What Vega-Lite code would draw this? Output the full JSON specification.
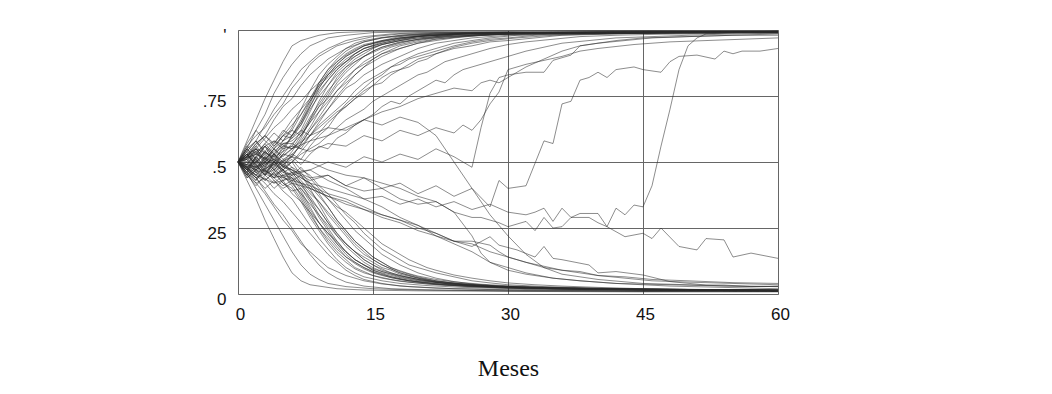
{
"$schema": "https://vega.github.io/schema/vega-lite/v6.json",
"width": 540, "height": 264,
"autosize": {"type": "none"},
"padding": {"left": 238, "top": 30, "right": 274, "bottom": 100},
"background": "white",
"config": {"view": {"stroke": "#aaaaaa", "strokeWidth": 1}},
"data": {"values": [
{"s":1,"m":0,"p":0.5},{"s":1,"m":1,"p":0.58},{"s":1,"m":2,"p":0.66},{"s":1,"m":3,"p":0.74},{"s":1,"m":4,"p":0.81},{"s":1,"m":5,"p":0.88},{"s":1,"m":6,"p":0.94},{"s":1,"m":7,"p":0.96},{"s":1,"m":9,"p":0.98},{"s":1,"m":11,"p":0.99},{"s":1,"m":15,"p":0.995},{"s":1,"m":25,"p":0.993},{"s":1,"m":40,"p":0.997},{"s":1,"m":60,"p":0.996},
{"s":2,"m":0,"p":0.5},{"s":2,"m":1,"p":0.55},{"s":2,"m":2,"p":0.62},{"s":2,"m":3,"p":0.68},{"s":2,"m":4,"p":0.76},{"s":2,"m":5,"p":0.82},{"s":2,"m":6,"p":0.87},{"s":2,"m":7,"p":0.91},{"s":2,"m":8,"p":0.94},{"s":2,"m":10,"p":0.97},{"s":2,"m":12,"p":0.98},{"s":2,"m":15,"p":0.99},{"s":2,"m":20,"p":0.993},{"s":2,"m":30,"p":0.99},{"s":2,"m":45,"p":0.995},{"s":2,"m":60,"p":0.993},
{"s":3,"m":0,"p":0.5},{"s":3,"m":1,"p":0.54},{"s":3,"m":2,"p":0.58},{"s":3,"m":3,"p":0.64},{"s":3,"m":4,"p":0.7},{"s":3,"m":5,"p":0.75},{"s":3,"m":6,"p":0.8},{"s":3,"m":7,"p":0.85},{"s":3,"m":8,"p":0.88},{"s":3,"m":9,"p":0.91},{"s":3,"m":10,"p":0.93},{"s":3,"m":12,"p":0.96},{"s":3,"m":14,"p":0.975},{"s":3,"m":17,"p":0.985},{"s":3,"m":20,"p":0.99},{"s":3,"m":30,"p":0.992},{"s":3,"m":45,"p":0.988},{"s":3,"m":60,"p":0.995},
{"s":4,"m":0,"p":0.5},{"s":4,"m":1,"p":0.52},{"s":4,"m":2,"p":0.57},{"s":4,"m":3,"p":0.6},{"s":4,"m":4,"p":0.66},{"s":4,"m":5,"p":0.71},{"s":4,"m":6,"p":0.74},{"s":4,"m":7,"p":0.79},{"s":4,"m":8,"p":0.83},{"s":4,"m":9,"p":0.86},{"s":4,"m":10,"p":0.89},{"s":4,"m":11,"p":0.91},{"s":4,"m":12,"p":0.93},{"s":4,"m":14,"p":0.955},{"s":4,"m":16,"p":0.97},{"s":4,"m":18,"p":0.98},{"s":4,"m":22,"p":0.988},{"s":4,"m":30,"p":0.99},{"s":4,"m":45,"p":0.993},{"s":4,"m":60,"p":0.995},
{"s":5,"m":0,"p":0.5},{"s":5,"m":1,"p":0.56},{"s":5,"m":2,"p":0.6},{"s":5,"m":3,"p":0.63},{"s":5,"m":4,"p":0.68},{"s":5,"m":5,"p":0.72},{"s":5,"m":6,"p":0.78},{"s":5,"m":7,"p":0.82},{"s":5,"m":8,"p":0.87},{"s":5,"m":9,"p":0.9},{"s":5,"m":10,"p":0.92},{"s":5,"m":11,"p":0.94},{"s":5,"m":13,"p":0.96},{"s":5,"m":15,"p":0.975},{"s":5,"m":18,"p":0.985},{"s":5,"m":25,"p":0.99},{"s":5,"m":40,"p":0.993},{"s":5,"m":60,"p":0.994},
{"s":6,"m":0,"p":0.5},{"s":6,"m":1,"p":0.53},{"s":6,"m":2,"p":0.55},{"s":6,"m":3,"p":0.59},{"s":6,"m":4,"p":0.63},{"s":6,"m":5,"p":0.66},{"s":6,"m":6,"p":0.7},{"s":6,"m":7,"p":0.73},{"s":6,"m":8,"p":0.77},{"s":6,"m":9,"p":0.8},{"s":6,"m":10,"p":0.83},{"s":6,"m":11,"p":0.86},{"s":6,"m":12,"p":0.88},{"s":6,"m":13,"p":0.9},{"s":6,"m":14,"p":0.92},{"s":6,"m":16,"p":0.945},{"s":6,"m":18,"p":0.96},{"s":6,"m":20,"p":0.975},{"s":6,"m":24,"p":0.985},{"s":6,"m":30,"p":0.99},{"s":6,"m":45,"p":0.992},{"s":6,"m":60,"p":0.994},
{"s":7,"m":0,"p":0.5},{"s":7,"m":1,"p":0.46},{"s":7,"m":2,"p":0.52},{"s":7,"m":3,"p":0.56},{"s":7,"m":4,"p":0.5},{"s":7,"m":5,"p":0.54},{"s":7,"m":6,"p":0.6},{"s":7,"m":7,"p":0.64},{"s":7,"m":8,"p":0.7},{"s":7,"m":9,"p":0.75},{"s":7,"m":10,"p":0.79},{"s":7,"m":11,"p":0.83},{"s":7,"m":12,"p":0.86},{"s":7,"m":13,"p":0.88},{"s":7,"m":14,"p":0.9},{"s":7,"m":16,"p":0.93},{"s":7,"m":18,"p":0.95},{"s":7,"m":20,"p":0.965},{"s":7,"m":22,"p":0.975},{"s":7,"m":25,"p":0.985},{"s":7,"m":30,"p":0.99},{"s":7,"m":40,"p":0.985},{"s":7,"m":50,"p":0.993},{"s":7,"m":60,"p":0.99},
{"s":8,"m":0,"p":0.5},{"s":8,"m":1,"p":0.53},{"s":8,"m":2,"p":0.49},{"s":8,"m":3,"p":0.45},{"s":8,"m":4,"p":0.5},{"s":8,"m":5,"p":0.56},{"s":8,"m":6,"p":0.55},{"s":8,"m":7,"p":0.6},{"s":8,"m":8,"p":0.66},{"s":8,"m":9,"p":0.71},{"s":8,"m":10,"p":0.74},{"s":8,"m":11,"p":0.79},{"s":8,"m":12,"p":0.82},{"s":8,"m":13,"p":0.85},{"s":8,"m":14,"p":0.87},{"s":8,"m":16,"p":0.91},{"s":8,"m":18,"p":0.93},{"s":8,"m":20,"p":0.95},{"s":8,"m":22,"p":0.96},{"s":8,"m":24,"p":0.97},{"s":8,"m":27,"p":0.98},{"s":8,"m":30,"p":0.985},{"s":8,"m":40,"p":0.99},{"s":8,"m":50,"p":0.985},{"s":8,"m":60,"p":0.993},
{"s":9,"m":0,"p":0.5},{"s":9,"m":1,"p":0.47},{"s":9,"m":2,"p":0.43},{"s":9,"m":3,"p":0.48},{"s":9,"m":4,"p":0.53},{"s":9,"m":5,"p":0.5},{"s":9,"m":6,"p":0.52},{"s":9,"m":7,"p":0.57},{"s":9,"m":8,"p":0.62},{"s":9,"m":9,"p":0.66},{"s":9,"m":10,"p":0.7},{"s":9,"m":11,"p":0.74},{"s":9,"m":12,"p":0.78},{"s":9,"m":13,"p":0.8},{"s":9,"m":14,"p":0.83},{"s":9,"m":15,"p":0.85},{"s":9,"m":16,"p":0.87},{"s":9,"m":18,"p":0.9},{"s":9,"m":20,"p":0.93},{"s":9,"m":22,"p":0.95},{"s":9,"m":24,"p":0.96},{"s":9,"m":26,"p":0.97},{"s":9,"m":30,"p":0.98},{"s":9,"m":35,"p":0.985},{"s":9,"m":45,"p":0.99},{"s":9,"m":60,"p":0.992},
{"s":10,"m":0,"p":0.5},{"s":10,"m":1,"p":0.55},{"s":10,"m":2,"p":0.58},{"s":10,"m":3,"p":0.53},{"s":10,"m":4,"p":0.57},{"s":10,"m":5,"p":0.62},{"s":10,"m":6,"p":0.6},{"s":10,"m":7,"p":0.65},{"s":10,"m":8,"p":0.71},{"s":10,"m":9,"p":0.77},{"s":10,"m":10,"p":0.81},{"s":10,"m":11,"p":0.85},{"s":10,"m":12,"p":0.88},{"s":10,"m":13,"p":0.91},{"s":10,"m":14,"p":0.93},{"s":10,"m":16,"p":0.955},{"s":10,"m":18,"p":0.97},{"s":10,"m":21,"p":0.98},{"s":10,"m":25,"p":0.988},{"s":10,"m":35,"p":0.99},{"s":10,"m":50,"p":0.993},{"s":10,"m":60,"p":0.993},
{"s":11,"m":0,"p":0.5},{"s":11,"m":1,"p":0.44},{"s":11,"m":2,"p":0.47},{"s":11,"m":3,"p":0.52},{"s":11,"m":4,"p":0.48},{"s":11,"m":5,"p":0.53},{"s":11,"m":6,"p":0.57},{"s":11,"m":7,"p":0.55},{"s":11,"m":8,"p":0.6},{"s":11,"m":9,"p":0.64},{"s":11,"m":10,"p":0.67},{"s":11,"m":11,"p":0.7},{"s":11,"m":12,"p":0.73},{"s":11,"m":13,"p":0.77},{"s":11,"m":14,"p":0.8},{"s":11,"m":15,"p":0.82},{"s":11,"m":16,"p":0.84},{"s":11,"m":17,"p":0.86},{"s":11,"m":18,"p":0.88},{"s":11,"m":20,"p":0.91},{"s":11,"m":22,"p":0.93},{"s":11,"m":24,"p":0.95},{"s":11,"m":26,"p":0.96},{"s":11,"m":28,"p":0.97},{"s":11,"m":31,"p":0.98},{"s":11,"m":36,"p":0.985},{"s":11,"m":45,"p":0.99},{"s":11,"m":60,"p":0.99},
{"s":12,"m":0,"p":0.5},{"s":12,"m":1,"p":0.52},{"s":12,"m":2,"p":0.56},{"s":12,"m":3,"p":0.6},{"s":12,"m":4,"p":0.57},{"s":12,"m":5,"p":0.61},{"s":12,"m":6,"p":0.66},{"s":12,"m":7,"p":0.7},{"s":12,"m":8,"p":0.74},{"s":12,"m":9,"p":0.79},{"s":12,"m":10,"p":0.82},{"s":12,"m":11,"p":0.86},{"s":12,"m":12,"p":0.89},{"s":12,"m":14,"p":0.93},{"s":12,"m":16,"p":0.95},{"s":12,"m":18,"p":0.965},{"s":12,"m":20,"p":0.975},{"s":12,"m":24,"p":0.985},{"s":12,"m":30,"p":0.99},{"s":12,"m":45,"p":0.992},{"s":12,"m":60,"p":0.993},
{"s":13,"m":0,"p":0.5},{"s":13,"m":1,"p":0.48},{"s":13,"m":2,"p":0.51},{"s":13,"m":3,"p":0.47},{"s":13,"m":4,"p":0.44},{"s":13,"m":5,"p":0.48},{"s":13,"m":6,"p":0.53},{"s":13,"m":7,"p":0.51},{"s":13,"m":8,"p":0.56},{"s":13,"m":9,"p":0.6},{"s":13,"m":10,"p":0.63},{"s":13,"m":11,"p":0.68},{"s":13,"m":12,"p":0.72},{"s":13,"m":13,"p":0.75},{"s":13,"m":14,"p":0.78},{"s":13,"m":15,"p":0.81},{"s":13,"m":16,"p":0.83},{"s":13,"m":17,"p":0.86},{"s":13,"m":18,"p":0.87},{"s":13,"m":19,"p":0.89},{"s":13,"m":20,"p":0.9},{"s":13,"m":22,"p":0.92},{"s":13,"m":24,"p":0.94},{"s":13,"m":26,"p":0.955},{"s":13,"m":28,"p":0.965},{"s":13,"m":30,"p":0.97},{"s":13,"m":33,"p":0.98},{"s":13,"m":38,"p":0.985},{"s":13,"m":45,"p":0.99},{"s":13,"m":60,"p":0.99},
{"s":14,"m":0,"p":0.5},{"s":14,"m":1,"p":0.57},{"s":14,"m":2,"p":0.62},{"s":14,"m":3,"p":0.58},{"s":14,"m":4,"p":0.55},{"s":14,"m":5,"p":0.6},{"s":14,"m":6,"p":0.64},{"s":14,"m":7,"p":0.68},{"s":14,"m":8,"p":0.73},{"s":14,"m":9,"p":0.78},{"s":14,"m":10,"p":0.83},{"s":14,"m":11,"p":0.87},{"s":14,"m":12,"p":0.9},{"s":14,"m":13,"p":0.92},{"s":14,"m":14,"p":0.94},{"s":14,"m":16,"p":0.96},{"s":14,"m":18,"p":0.975},{"s":14,"m":22,"p":0.985},{"s":14,"m":30,"p":0.99},{"s":14,"m":45,"p":0.993},{"s":14,"m":60,"p":0.994},
{"s":15,"m":0,"p":0.5},{"s":15,"m":1,"p":0.45},{"s":15,"m":2,"p":0.41},{"s":15,"m":3,"p":0.45},{"s":15,"m":4,"p":0.5},{"s":15,"m":5,"p":0.47},{"s":15,"m":6,"p":0.5},{"s":15,"m":7,"p":0.54},{"s":15,"m":8,"p":0.58},{"s":15,"m":9,"p":0.61},{"s":15,"m":10,"p":0.65},{"s":15,"m":11,"p":0.68},{"s":15,"m":12,"p":0.71},{"s":15,"m":13,"p":0.74},{"s":15,"m":14,"p":0.76},{"s":15,"m":15,"p":0.79},{"s":15,"m":16,"p":0.8},{"s":15,"m":17,"p":0.83},{"s":15,"m":18,"p":0.85},{"s":15,"m":19,"p":0.86},{"s":15,"m":20,"p":0.88},{"s":15,"m":21,"p":0.89},{"s":15,"m":22,"p":0.91},{"s":15,"m":24,"p":0.93},{"s":15,"m":26,"p":0.94},{"s":15,"m":28,"p":0.955},{"s":15,"m":30,"p":0.96},{"s":15,"m":33,"p":0.97},{"s":15,"m":36,"p":0.98},{"s":15,"m":42,"p":0.985},{"s":15,"m":50,"p":0.99},{"s":15,"m":60,"p":0.99},
{"s":16,"m":0,"p":0.5},{"s":16,"m":1,"p":0.51},{"s":16,"m":2,"p":0.55},{"s":16,"m":3,"p":0.51},{"s":16,"m":4,"p":0.55},{"s":16,"m":5,"p":0.58},{"s":16,"m":6,"p":0.62},{"s":16,"m":7,"p":0.6},{"s":16,"m":8,"p":0.65},{"s":16,"m":9,"p":0.69},{"s":16,"m":10,"p":0.73},{"s":16,"m":11,"p":0.77},{"s":16,"m":12,"p":0.8},{"s":16,"m":13,"p":0.83},{"s":16,"m":14,"p":0.86},{"s":16,"m":15,"p":0.88},{"s":16,"m":16,"p":0.9},{"s":16,"m":18,"p":0.93},{"s":16,"m":20,"p":0.95},{"s":16,"m":22,"p":0.965},{"s":16,"m":25,"p":0.975},{"s":16,"m":30,"p":0.985},{"s":16,"m":40,"p":0.99},{"s":16,"m":60,"p":0.992},
{"s":17,"m":0,"p":0.5},{"s":17,"m":1,"p":0.47},{"s":17,"m":2,"p":0.5},{"s":17,"m":3,"p":0.54},{"s":17,"m":4,"p":0.51},{"s":17,"m":5,"p":0.47},{"s":17,"m":6,"p":0.5},{"s":17,"m":7,"p":0.53},{"s":17,"m":8,"p":0.55},{"s":17,"m":9,"p":0.57},{"s":17,"m":10,"p":0.6},{"s":17,"m":11,"p":0.63},{"s":17,"m":12,"p":0.66},{"s":17,"m":13,"p":0.68},{"s":17,"m":14,"p":0.7},{"s":17,"m":15,"p":0.73},{"s":17,"m":16,"p":0.75},{"s":17,"m":17,"p":0.77},{"s":17,"m":18,"p":0.79},{"s":17,"m":19,"p":0.81},{"s":17,"m":20,"p":0.83},{"s":17,"m":21,"p":0.84},{"s":17,"m":22,"p":0.86},{"s":17,"m":23,"p":0.88},{"s":17,"m":24,"p":0.89},{"s":17,"m":26,"p":0.91},{"s":17,"m":28,"p":0.93},{"s":17,"m":30,"p":0.945},{"s":17,"m":32,"p":0.955},{"s":17,"m":35,"p":0.965},{"s":17,"m":38,"p":0.975},{"s":17,"m":42,"p":0.98},{"s":17,"m":48,"p":0.985},{"s":17,"m":54,"p":0.99},{"s":17,"m":60,"p":0.99},
{"s":18,"m":0,"p":0.5},{"s":18,"m":1,"p":0.53},{"s":18,"m":2,"p":0.48},{"s":18,"m":3,"p":0.5},{"s":18,"m":4,"p":0.46},{"s":18,"m":5,"p":0.49},{"s":18,"m":6,"p":0.52},{"s":18,"m":7,"p":0.49},{"s":18,"m":8,"p":0.53},{"s":18,"m":9,"p":0.56},{"s":18,"m":10,"p":0.55},{"s":18,"m":11,"p":0.59},{"s":18,"m":12,"p":0.61},{"s":18,"m":13,"p":0.64},{"s":18,"m":14,"p":0.66},{"s":18,"m":15,"p":0.68},{"s":18,"m":16,"p":0.71},{"s":18,"m":17,"p":0.73},{"s":18,"m":18,"p":0.72},{"s":18,"m":19,"p":0.75},{"s":18,"m":20,"p":0.77},{"s":18,"m":21,"p":0.79},{"s":18,"m":22,"p":0.81},{"s":18,"m":23,"p":0.8},{"s":18,"m":24,"p":0.83},{"s":18,"m":25,"p":0.85},{"s":18,"m":26,"p":0.86},{"s":18,"m":28,"p":0.88},{"s":18,"m":30,"p":0.9},{"s":18,"m":32,"p":0.92},{"s":18,"m":34,"p":0.935},{"s":18,"m":36,"p":0.95},{"s":18,"m":39,"p":0.96},{"s":18,"m":42,"p":0.97},{"s":18,"m":46,"p":0.975},{"s":18,"m":50,"p":0.98},{"s":18,"m":55,"p":0.985},{"s":18,"m":60,"p":0.988},
{"s":19,"m":0,"p":0.5},{"s":19,"m":1,"p":0.49},{"s":19,"m":2,"p":0.53},{"s":19,"m":3,"p":0.57},{"s":19,"m":4,"p":0.53},{"s":19,"m":5,"p":0.56},{"s":19,"m":6,"p":0.59},{"s":19,"m":7,"p":0.62},{"s":19,"m":8,"p":0.6},{"s":19,"m":9,"p":0.63},{"s":19,"m":10,"p":0.66},{"s":19,"m":11,"p":0.69},{"s":19,"m":12,"p":0.71},{"s":19,"m":13,"p":0.74},{"s":19,"m":14,"p":0.77},{"s":19,"m":15,"p":0.79},{"s":19,"m":16,"p":0.82},{"s":19,"m":17,"p":0.84},{"s":19,"m":18,"p":0.85},{"s":19,"m":19,"p":0.87},{"s":19,"m":20,"p":0.89},{"s":19,"m":22,"p":0.91},{"s":19,"m":24,"p":0.935},{"s":19,"m":26,"p":0.95},{"s":19,"m":28,"p":0.96},{"s":19,"m":31,"p":0.97},{"s":19,"m":35,"p":0.98},{"s":19,"m":40,"p":0.985},{"s":19,"m":50,"p":0.99},{"s":19,"m":60,"p":0.99},
{"s":20,"m":0,"p":0.5},{"s":20,"m":2,"p":0.53},{"s":20,"m":4,"p":0.5},{"s":20,"m":6,"p":0.55},{"s":20,"m":8,"p":0.58},{"s":20,"m":10,"p":0.6},{"s":20,"m":12,"p":0.63},{"s":20,"m":14,"p":0.66},{"s":20,"m":16,"p":0.69},{"s":20,"m":18,"p":0.71},{"s":20,"m":20,"p":0.74},{"s":20,"m":22,"p":0.76},{"s":20,"m":24,"p":0.78},{"s":20,"m":26,"p":0.77},{"s":20,"m":27,"p":0.8},{"s":20,"m":28,"p":0.81},{"s":20,"m":29,"p":0.8},{"s":20,"m":30,"p":0.82},{"s":20,"m":31,"p":0.84},{"s":20,"m":32,"p":0.86},{"s":20,"m":34,"p":0.89},{"s":20,"m":36,"p":0.92},{"s":20,"m":38,"p":0.94},{"s":20,"m":40,"p":0.95},{"s":20,"m":43,"p":0.96},{"s":20,"m":46,"p":0.97},{"s":20,"m":50,"p":0.975},{"s":20,"m":55,"p":0.98},{"s":20,"m":60,"p":0.985},
{"s":21,"m":0,"p":0.5},{"s":21,"m":2,"p":0.46},{"s":21,"m":4,"p":0.49},{"s":21,"m":6,"p":0.45},{"s":21,"m":8,"p":0.47},{"s":21,"m":10,"p":0.5},{"s":21,"m":12,"p":0.48},{"s":21,"m":14,"p":0.52},{"s":21,"m":16,"p":0.5},{"s":21,"m":18,"p":0.53},{"s":21,"m":20,"p":0.51},{"s":21,"m":22,"p":0.55},{"s":21,"m":24,"p":0.52},{"s":21,"m":25,"p":0.5},{"s":21,"m":26,"p":0.48},{"s":21,"m":27,"p":0.63},{"s":21,"m":28,"p":0.76},{"s":21,"m":29,"p":0.82},{"s":21,"m":30,"p":0.83},{"s":21,"m":32,"p":0.84},{"s":21,"m":34,"p":0.84},{"s":21,"m":35,"p":0.885},{"s":21,"m":37,"p":0.905},{"s":21,"m":38,"p":0.94},{"s":21,"m":40,"p":0.95},{"s":21,"m":42,"p":0.96},{"s":21,"m":45,"p":0.97},{"s":21,"m":50,"p":0.975},{"s":21,"m":55,"p":0.98},{"s":21,"m":60,"p":0.98},
{"s":22,"m":0,"p":0.5},{"s":22,"m":2,"p":0.55},{"s":22,"m":4,"p":0.52},{"s":22,"m":6,"p":0.56},{"s":22,"m":8,"p":0.54},{"s":22,"m":10,"p":0.57},{"s":22,"m":12,"p":0.56},{"s":22,"m":14,"p":0.6},{"s":22,"m":16,"p":0.58},{"s":22,"m":18,"p":0.62},{"s":22,"m":20,"p":0.6},{"s":22,"m":22,"p":0.63},{"s":22,"m":24,"p":0.61},{"s":22,"m":25,"p":0.64},{"s":22,"m":26,"p":0.62},{"s":22,"m":27,"p":0.66},{"s":22,"m":28,"p":0.72},{"s":22,"m":29,"p":0.765},{"s":22,"m":30,"p":0.85},{"s":22,"m":32,"p":0.87},{"s":22,"m":34,"p":0.885},{"s":22,"m":36,"p":0.9},{"s":22,"m":38,"p":0.92},{"s":22,"m":40,"p":0.93},{"s":22,"m":44,"p":0.945},{"s":22,"m":48,"p":0.955},{"s":22,"m":52,"p":0.96},{"s":22,"m":56,"p":0.965},{"s":22,"m":60,"p":0.97},
{"s":23,"m":0,"p":0.5},{"s":23,"m":1,"p":0.43},{"s":23,"m":2,"p":0.36},{"s":23,"m":3,"p":0.28},{"s":23,"m":4,"p":0.21},{"s":23,"m":5,"p":0.14},{"s":23,"m":6,"p":0.08},{"s":23,"m":7,"p":0.05},{"s":23,"m":8,"p":0.035},{"s":23,"m":9,"p":0.03},{"s":23,"m":11,"p":0.02},{"s":23,"m":14,"p":0.015},{"s":23,"m":20,"p":0.012},{"s":23,"m":30,"p":0.01},{"s":23,"m":45,"p":0.008},{"s":23,"m":60,"p":0.008},
{"s":24,"m":0,"p":0.5},{"s":24,"m":1,"p":0.46},{"s":24,"m":2,"p":0.4},{"s":24,"m":3,"p":0.34},{"s":24,"m":4,"p":0.28},{"s":24,"m":5,"p":0.22},{"s":24,"m":6,"p":0.16},{"s":24,"m":7,"p":0.11},{"s":24,"m":8,"p":0.075},{"s":24,"m":9,"p":0.055},{"s":24,"m":10,"p":0.04},{"s":24,"m":12,"p":0.028},{"s":24,"m":15,"p":0.02},{"s":24,"m":20,"p":0.015},{"s":24,"m":30,"p":0.012},{"s":24,"m":45,"p":0.01},{"s":24,"m":60,"p":0.01},
{"s":25,"m":0,"p":0.5},{"s":25,"m":1,"p":0.47},{"s":25,"m":2,"p":0.44},{"s":25,"m":3,"p":0.39},{"s":25,"m":4,"p":0.34},{"s":25,"m":5,"p":0.3},{"s":25,"m":6,"p":0.25},{"s":25,"m":7,"p":0.2},{"s":25,"m":8,"p":0.15},{"s":25,"m":9,"p":0.11},{"s":25,"m":10,"p":0.08},{"s":25,"m":11,"p":0.06},{"s":25,"m":12,"p":0.045},{"s":25,"m":14,"p":0.03},{"s":25,"m":17,"p":0.02},{"s":25,"m":22,"p":0.015},{"s":25,"m":30,"p":0.012},{"s":25,"m":45,"p":0.01},{"s":25,"m":60,"p":0.01},
{"s":26,"m":0,"p":0.5},{"s":26,"m":1,"p":0.48},{"s":26,"m":2,"p":0.45},{"s":26,"m":3,"p":0.42},{"s":26,"m":4,"p":0.38},{"s":26,"m":5,"p":0.35},{"s":26,"m":6,"p":0.31},{"s":26,"m":7,"p":0.27},{"s":26,"m":8,"p":0.23},{"s":26,"m":9,"p":0.19},{"s":26,"m":10,"p":0.15},{"s":26,"m":11,"p":0.12},{"s":26,"m":12,"p":0.09},{"s":26,"m":13,"p":0.07},{"s":26,"m":14,"p":0.055},{"s":26,"m":16,"p":0.04},{"s":26,"m":18,"p":0.03},{"s":26,"m":22,"p":0.022},{"s":26,"m":30,"p":0.015},{"s":26,"m":45,"p":0.012},{"s":26,"m":60,"p":0.01},
{"s":27,"m":0,"p":0.5},{"s":27,"m":1,"p":0.45},{"s":27,"m":2,"p":0.42},{"s":27,"m":3,"p":0.38},{"s":27,"m":4,"p":0.33},{"s":27,"m":5,"p":0.28},{"s":27,"m":6,"p":0.24},{"s":27,"m":7,"p":0.19},{"s":27,"m":8,"p":0.16},{"s":27,"m":9,"p":0.13},{"s":27,"m":10,"p":0.1},{"s":27,"m":11,"p":0.085},{"s":27,"m":12,"p":0.07},{"s":27,"m":14,"p":0.05},{"s":27,"m":16,"p":0.038},{"s":27,"m":19,"p":0.028},{"s":27,"m":24,"p":0.02},{"s":27,"m":32,"p":0.015},{"s":27,"m":45,"p":0.012},{"s":27,"m":60,"p":0.012},
{"s":28,"m":0,"p":0.5},{"s":28,"m":1,"p":0.47},{"s":28,"m":2,"p":0.52},{"s":28,"m":3,"p":0.48},{"s":28,"m":4,"p":0.44},{"s":28,"m":5,"p":0.47},{"s":28,"m":6,"p":0.43},{"s":28,"m":7,"p":0.45},{"s":28,"m":8,"p":0.41},{"s":28,"m":9,"p":0.37},{"s":28,"m":10,"p":0.33},{"s":28,"m":11,"p":0.28},{"s":28,"m":12,"p":0.24},{"s":28,"m":13,"p":0.2},{"s":28,"m":14,"p":0.17},{"s":28,"m":15,"p":0.14},{"s":28,"m":16,"p":0.12},{"s":28,"m":17,"p":0.1},{"s":28,"m":18,"p":0.085},{"s":28,"m":20,"p":0.065},{"s":28,"m":22,"p":0.05},{"s":28,"m":24,"p":0.04},{"s":28,"m":27,"p":0.03},{"s":28,"m":30,"p":0.025},{"s":28,"m":35,"p":0.02},{"s":28,"m":45,"p":0.015},{"s":28,"m":60,"p":0.012},
{"s":29,"m":0,"p":0.5},{"s":29,"m":1,"p":0.53},{"s":29,"m":2,"p":0.49},{"s":29,"m":3,"p":0.45},{"s":29,"m":4,"p":0.48},{"s":29,"m":5,"p":0.44},{"s":29,"m":6,"p":0.46},{"s":29,"m":7,"p":0.42},{"s":29,"m":8,"p":0.38},{"s":29,"m":9,"p":0.35},{"s":29,"m":10,"p":0.31},{"s":29,"m":11,"p":0.27},{"s":29,"m":12,"p":0.23},{"s":29,"m":13,"p":0.19},{"s":29,"m":14,"p":0.16},{"s":29,"m":15,"p":0.13},{"s":29,"m":16,"p":0.11},{"s":29,"m":18,"p":0.08},{"s":29,"m":20,"p":0.06},{"s":29,"m":22,"p":0.045},{"s":29,"m":25,"p":0.035},{"s":29,"m":28,"p":0.028},{"s":29,"m":33,"p":0.022},{"s":29,"m":40,"p":0.018},{"s":29,"m":50,"p":0.015},{"s":29,"m":60,"p":0.014},
{"s":30,"m":0,"p":0.5},{"s":30,"m":1,"p":0.45},{"s":30,"m":2,"p":0.48},{"s":30,"m":3,"p":0.52},{"s":30,"m":4,"p":0.47},{"s":30,"m":5,"p":0.43},{"s":30,"m":6,"p":0.45},{"s":30,"m":7,"p":0.48},{"s":30,"m":8,"p":0.44},{"s":30,"m":9,"p":0.4},{"s":30,"m":10,"p":0.36},{"s":30,"m":11,"p":0.32},{"s":30,"m":12,"p":0.28},{"s":30,"m":13,"p":0.24},{"s":30,"m":14,"p":0.21},{"s":30,"m":15,"p":0.18},{"s":30,"m":16,"p":0.15},{"s":30,"m":17,"p":0.13},{"s":30,"m":18,"p":0.11},{"s":30,"m":19,"p":0.095},{"s":30,"m":20,"p":0.08},{"s":30,"m":22,"p":0.06},{"s":30,"m":24,"p":0.047},{"s":30,"m":26,"p":0.038},{"s":30,"m":29,"p":0.03},{"s":30,"m":33,"p":0.024},{"s":30,"m":40,"p":0.018},{"s":30,"m":50,"p":0.015},{"s":30,"m":60,"p":0.013},
{"s":31,"m":0,"p":0.5},{"s":31,"m":1,"p":0.51},{"s":31,"m":2,"p":0.46},{"s":31,"m":3,"p":0.43},{"s":31,"m":4,"p":0.46},{"s":31,"m":5,"p":0.42},{"s":31,"m":6,"p":0.39},{"s":31,"m":7,"p":0.4},{"s":31,"m":8,"p":0.36},{"s":31,"m":9,"p":0.32},{"s":31,"m":10,"p":0.27},{"s":31,"m":11,"p":0.23},{"s":31,"m":12,"p":0.19},{"s":31,"m":13,"p":0.16},{"s":31,"m":14,"p":0.13},{"s":31,"m":15,"p":0.11},{"s":31,"m":16,"p":0.09},{"s":31,"m":18,"p":0.07},{"s":31,"m":20,"p":0.055},{"s":31,"m":23,"p":0.04},{"s":31,"m":26,"p":0.03},{"s":31,"m":30,"p":0.024},{"s":31,"m":38,"p":0.018},{"s":31,"m":50,"p":0.014},{"s":31,"m":60,"p":0.012},
{"s":32,"m":0,"p":0.5},{"s":32,"m":1,"p":0.48},{"s":32,"m":2,"p":0.44},{"s":32,"m":3,"p":0.47},{"s":32,"m":4,"p":0.43},{"s":32,"m":5,"p":0.4},{"s":32,"m":6,"p":0.42},{"s":32,"m":7,"p":0.38},{"s":32,"m":8,"p":0.34},{"s":32,"m":9,"p":0.3},{"s":32,"m":10,"p":0.26},{"s":32,"m":11,"p":0.22},{"s":32,"m":12,"p":0.19},{"s":32,"m":13,"p":0.16},{"s":32,"m":14,"p":0.14},{"s":32,"m":15,"p":0.12},{"s":32,"m":16,"p":0.1},{"s":32,"m":17,"p":0.09},{"s":32,"m":18,"p":0.075},{"s":32,"m":20,"p":0.06},{"s":32,"m":22,"p":0.048},{"s":32,"m":25,"p":0.038},{"s":32,"m":28,"p":0.03},{"s":32,"m":32,"p":0.025},{"s":32,"m":40,"p":0.02},{"s":32,"m":50,"p":0.016},{"s":32,"m":60,"p":0.014},
{"s":33,"m":0,"p":0.5},{"s":33,"m":1,"p":0.52},{"s":33,"m":2,"p":0.55},{"s":33,"m":3,"p":0.5},{"s":33,"m":4,"p":0.53},{"s":33,"m":5,"p":0.49},{"s":33,"m":6,"p":0.51},{"s":33,"m":7,"p":0.47},{"s":33,"m":8,"p":0.45},{"s":33,"m":9,"p":0.41},{"s":33,"m":10,"p":0.38},{"s":33,"m":11,"p":0.34},{"s":33,"m":12,"p":0.3},{"s":33,"m":13,"p":0.27},{"s":33,"m":14,"p":0.23},{"s":33,"m":15,"p":0.2},{"s":33,"m":16,"p":0.17},{"s":33,"m":17,"p":0.15},{"s":33,"m":18,"p":0.13},{"s":33,"m":19,"p":0.11},{"s":33,"m":20,"p":0.1},{"s":33,"m":22,"p":0.08},{"s":33,"m":24,"p":0.065},{"s":33,"m":26,"p":0.05},{"s":33,"m":28,"p":0.042},{"s":33,"m":30,"p":0.035},{"s":33,"m":34,"p":0.028},{"s":33,"m":40,"p":0.022},{"s":33,"m":50,"p":0.017},{"s":33,"m":60,"p":0.015},
{"s":34,"m":0,"p":0.5},{"s":34,"m":1,"p":0.46},{"s":34,"m":2,"p":0.42},{"s":34,"m":3,"p":0.44},{"s":34,"m":4,"p":0.4},{"s":34,"m":5,"p":0.43},{"s":34,"m":6,"p":0.38},{"s":34,"m":7,"p":0.35},{"s":34,"m":8,"p":0.31},{"s":34,"m":9,"p":0.27},{"s":34,"m":10,"p":0.23},{"s":34,"m":11,"p":0.2},{"s":34,"m":12,"p":0.16},{"s":34,"m":13,"p":0.13},{"s":34,"m":14,"p":0.11},{"s":34,"m":15,"p":0.09},{"s":34,"m":17,"p":0.065},{"s":34,"m":19,"p":0.05},{"s":34,"m":22,"p":0.037},{"s":34,"m":26,"p":0.028},{"s":34,"m":32,"p":0.02},{"s":34,"m":45,"p":0.015},{"s":34,"m":60,"p":0.012},
{"s":35,"m":0,"p":0.5},{"s":35,"m":1,"p":0.54},{"s":35,"m":2,"p":0.5},{"s":35,"m":3,"p":0.46},{"s":35,"m":4,"p":0.5},{"s":35,"m":5,"p":0.46},{"s":35,"m":6,"p":0.48},{"s":35,"m":7,"p":0.44},{"s":35,"m":8,"p":0.42},{"s":35,"m":9,"p":0.39},{"s":35,"m":10,"p":0.36},{"s":35,"m":11,"p":0.33},{"s":35,"m":12,"p":0.31},{"s":35,"m":13,"p":0.28},{"s":35,"m":14,"p":0.25},{"s":35,"m":15,"p":0.22},{"s":35,"m":16,"p":0.19},{"s":35,"m":17,"p":0.17},{"s":35,"m":18,"p":0.15},{"s":35,"m":19,"p":0.13},{"s":35,"m":20,"p":0.115},{"s":35,"m":21,"p":0.1},{"s":35,"m":22,"p":0.09},{"s":35,"m":24,"p":0.072},{"s":35,"m":26,"p":0.06},{"s":35,"m":28,"p":0.05},{"s":35,"m":30,"p":0.042},{"s":35,"m":33,"p":0.035},{"s":35,"m":36,"p":0.03},{"s":35,"m":40,"p":0.025},{"s":35,"m":45,"p":0.02},{"s":35,"m":52,"p":0.017},{"s":35,"m":60,"p":0.015},
{"s":36,"m":0,"p":0.5},{"s":36,"m":2,"p":0.47},{"s":36,"m":4,"p":0.51},{"s":36,"m":6,"p":0.46},{"s":36,"m":8,"p":0.47},{"s":36,"m":10,"p":0.43},{"s":36,"m":12,"p":0.4},{"s":36,"m":14,"p":0.36},{"s":36,"m":16,"p":0.33},{"s":36,"m":18,"p":0.29},{"s":36,"m":20,"p":0.26},{"s":36,"m":22,"p":0.22},{"s":36,"m":24,"p":0.19},{"s":36,"m":26,"p":0.16},{"s":36,"m":28,"p":0.12},{"s":36,"m":30,"p":0.1},{"s":36,"m":32,"p":0.08},{"s":36,"m":35,"p":0.06},{"s":36,"m":38,"p":0.05},{"s":36,"m":42,"p":0.04},{"s":36,"m":48,"p":0.03},{"s":36,"m":54,"p":0.025},{"s":36,"m":60,"p":0.02},
{"s":37,"m":0,"p":0.5},{"s":37,"m":2,"p":0.53},{"s":37,"m":4,"p":0.49},{"s":37,"m":6,"p":0.52},{"s":37,"m":8,"p":0.5},{"s":37,"m":10,"p":0.47},{"s":37,"m":12,"p":0.45},{"s":37,"m":14,"p":0.44},{"s":37,"m":16,"p":0.42},{"s":37,"m":18,"p":0.4},{"s":37,"m":20,"p":0.37},{"s":37,"m":22,"p":0.35},{"s":37,"m":24,"p":0.31},{"s":37,"m":26,"p":0.22},{"s":37,"m":27,"p":0.155},{"s":37,"m":28,"p":0.12},{"s":37,"m":30,"p":0.09},{"s":37,"m":32,"p":0.075},{"s":37,"m":35,"p":0.06},{"s":37,"m":38,"p":0.05},{"s":37,"m":42,"p":0.04},{"s":37,"m":48,"p":0.035},{"s":37,"m":54,"p":0.03},{"s":37,"m":60,"p":0.028},
{"s":38,"m":0,"p":0.5},{"s":38,"m":2,"p":0.44},{"s":38,"m":4,"p":0.47},{"s":38,"m":6,"p":0.42},{"s":38,"m":8,"p":0.4},{"s":38,"m":10,"p":0.37},{"s":38,"m":12,"p":0.34},{"s":38,"m":14,"p":0.32},{"s":38,"m":16,"p":0.29},{"s":38,"m":18,"p":0.27},{"s":38,"m":20,"p":0.24},{"s":38,"m":22,"p":0.22},{"s":38,"m":24,"p":0.2},{"s":38,"m":26,"p":0.19},{"s":38,"m":28,"p":0.16},{"s":38,"m":30,"p":0.14},{"s":38,"m":32,"p":0.12},{"s":38,"m":34,"p":0.1},{"s":38,"m":36,"p":0.09},{"s":38,"m":38,"p":0.08},{"s":38,"m":40,"p":0.07},{"s":38,"m":43,"p":0.06},{"s":38,"m":46,"p":0.05},{"s":38,"m":50,"p":0.045},{"s":38,"m":55,"p":0.04},{"s":38,"m":60,"p":0.035},
{"s":39,"m":0,"p":0.5},{"s":39,"m":2,"p":0.48},{"s":39,"m":4,"p":0.45},{"s":39,"m":6,"p":0.43},{"s":39,"m":8,"p":0.41},{"s":39,"m":10,"p":0.38},{"s":39,"m":12,"p":0.36},{"s":39,"m":14,"p":0.33},{"s":39,"m":16,"p":0.3},{"s":39,"m":18,"p":0.28},{"s":39,"m":20,"p":0.25},{"s":39,"m":22,"p":0.23},{"s":39,"m":24,"p":0.2},{"s":39,"m":26,"p":0.2},{"s":39,"m":28,"p":0.185},{"s":39,"m":29,"p":0.16},{"s":39,"m":30,"p":0.14},{"s":39,"m":32,"p":0.12},{"s":39,"m":34,"p":0.105},{"s":39,"m":36,"p":0.09},{"s":39,"m":38,"p":0.085},{"s":39,"m":40,"p":0.07},{"s":39,"m":43,"p":0.065},{"s":39,"m":46,"p":0.055},{"s":39,"m":50,"p":0.05},{"s":39,"m":55,"p":0.043},{"s":39,"m":60,"p":0.04},
{"s":40,"m":0,"p":0.5},{"s":40,"m":2,"p":0.45},{"s":40,"m":4,"p":0.5},{"s":40,"m":6,"p":0.47},{"s":40,"m":8,"p":0.43},{"s":40,"m":10,"p":0.45},{"s":40,"m":12,"p":0.41},{"s":40,"m":14,"p":0.44},{"s":40,"m":16,"p":0.4},{"s":40,"m":18,"p":0.42},{"s":40,"m":20,"p":0.38},{"s":40,"m":22,"p":0.41},{"s":40,"m":24,"p":0.37},{"s":40,"m":26,"p":0.4},{"s":40,"m":28,"p":0.33},{"s":40,"m":29,"p":0.43},{"s":40,"m":30,"p":0.4},{"s":40,"m":32,"p":0.41},{"s":40,"m":33,"p":0.495},{"s":40,"m":34,"p":0.58},{"s":40,"m":35,"p":0.57},{"s":40,"m":36,"p":0.72},{"s":40,"m":37,"p":0.73},{"s":40,"m":38,"p":0.81},{"s":40,"m":39,"p":0.82},{"s":40,"m":40,"p":0.84},{"s":40,"m":41,"p":0.82},{"s":40,"m":42,"p":0.85},{"s":40,"m":44,"p":0.86},{"s":40,"m":45,"p":0.85},{"s":40,"m":47,"p":0.84},{"s":40,"m":48,"p":0.88},{"s":40,"m":49,"p":0.9},{"s":40,"m":51,"p":0.905},{"s":40,"m":53,"p":0.89},{"s":40,"m":54,"p":0.92},{"s":40,"m":55,"p":0.91},{"s":40,"m":56,"p":0.92},{"s":40,"m":58,"p":0.92},{"s":40,"m":60,"p":0.93},
{"s":41,"m":0,"p":0.5},{"s":41,"m":2,"p":0.47},{"s":41,"m":4,"p":0.44},{"s":41,"m":6,"p":0.46},{"s":41,"m":8,"p":0.42},{"s":41,"m":10,"p":0.4},{"s":41,"m":12,"p":0.38},{"s":41,"m":14,"p":0.36},{"s":41,"m":16,"p":0.37},{"s":41,"m":18,"p":0.34},{"s":41,"m":20,"p":0.36},{"s":41,"m":22,"p":0.33},{"s":41,"m":24,"p":0.35},{"s":41,"m":26,"p":0.32},{"s":41,"m":28,"p":0.34},{"s":41,"m":30,"p":0.31},{"s":41,"m":32,"p":0.3},{"s":41,"m":33,"p":0.31},{"s":41,"m":34,"p":0.325},{"s":41,"m":35,"p":0.275},{"s":41,"m":36,"p":0.325},{"s":41,"m":37,"p":0.29},{"s":41,"m":38,"p":0.305},{"s":41,"m":40,"p":0.305},{"s":41,"m":41,"p":0.255},{"s":41,"m":42,"p":0.325},{"s":41,"m":43,"p":0.3},{"s":41,"m":44,"p":0.337},{"s":41,"m":45,"p":0.33},{"s":41,"m":46,"p":0.41},{"s":41,"m":47,"p":0.56},{"s":41,"m":48,"p":0.7},{"s":41,"m":49,"p":0.85},{"s":41,"m":50,"p":0.94},{"s":41,"m":51,"p":0.97},{"s":41,"m":52,"p":0.985},{"s":41,"m":55,"p":0.99},{"s":41,"m":60,"p":0.995},
{"s":42,"m":0,"p":0.5},{"s":42,"m":2,"p":0.48},{"s":42,"m":4,"p":0.51},{"s":42,"m":6,"p":0.47},{"s":42,"m":8,"p":0.44},{"s":42,"m":10,"p":0.45},{"s":42,"m":12,"p":0.41},{"s":42,"m":14,"p":0.39},{"s":42,"m":16,"p":0.4},{"s":42,"m":18,"p":0.36},{"s":42,"m":20,"p":0.34},{"s":42,"m":22,"p":0.35},{"s":42,"m":24,"p":0.31},{"s":42,"m":26,"p":0.29},{"s":42,"m":27,"p":0.29},{"s":42,"m":29,"p":0.27},{"s":42,"m":30,"p":0.255},{"s":42,"m":32,"p":0.275},{"s":42,"m":33,"p":0.24},{"s":42,"m":34,"p":0.29},{"s":42,"m":35,"p":0.25},{"s":42,"m":36,"p":0.255},{"s":42,"m":37,"p":0.29},{"s":42,"m":39,"p":0.29},{"s":42,"m":40,"p":0.27},{"s":42,"m":41,"p":0.255},{"s":42,"m":43,"p":0.217},{"s":42,"m":45,"p":0.23},{"s":42,"m":46,"p":0.21},{"s":42,"m":47,"p":0.25},{"s":42,"m":49,"p":0.18},{"s":42,"m":51,"p":0.167},{"s":42,"m":52,"p":0.21},{"s":42,"m":54,"p":0.205},{"s":42,"m":55,"p":0.14},{"s":42,"m":57,"p":0.155},{"s":42,"m":60,"p":0.135},
{"s":43,"m":0,"p":0.5},{"s":43,"m":2,"p":0.45},{"s":43,"m":4,"p":0.42},{"s":43,"m":6,"p":0.44},{"s":43,"m":8,"p":0.4},{"s":43,"m":10,"p":0.37},{"s":43,"m":12,"p":0.35},{"s":43,"m":14,"p":0.32},{"s":43,"m":16,"p":0.3},{"s":43,"m":18,"p":0.28},{"s":43,"m":20,"p":0.26},{"s":43,"m":22,"p":0.23},{"s":43,"m":24,"p":0.2},{"s":43,"m":26,"p":0.18},{"s":43,"m":28,"p":0.217},{"s":43,"m":29,"p":0.185},{"s":43,"m":31,"p":0.167},{"s":43,"m":33,"p":0.14},{"s":43,"m":34,"p":0.18},{"s":43,"m":35,"p":0.135},{"s":43,"m":36,"p":0.13},{"s":43,"m":39,"p":0.11},{"s":43,"m":40,"p":0.08},{"s":43,"m":42,"p":0.085},{"s":43,"m":45,"p":0.072},{"s":43,"m":48,"p":0.047},{"s":43,"m":52,"p":0.034},{"s":43,"m":54,"p":0.034},{"s":43,"m":57,"p":0.028},{"s":43,"m":60,"p":0.03},
{"s":44,"m":0,"p":0.5},{"s":44,"m":2,"p":0.54},{"s":44,"m":4,"p":0.58},{"s":44,"m":6,"p":0.55},{"s":44,"m":8,"p":0.6},{"s":44,"m":10,"p":0.63},{"s":44,"m":12,"p":0.62},{"s":44,"m":14,"p":0.66},{"s":44,"m":16,"p":0.64},{"s":44,"m":18,"p":0.67},{"s":44,"m":20,"p":0.65},{"s":44,"m":22,"p":0.6},{"s":44,"m":24,"p":0.5},{"s":44,"m":26,"p":0.4},{"s":44,"m":28,"p":0.3},{"s":44,"m":30,"p":0.22},{"s":44,"m":32,"p":0.15},{"s":44,"m":34,"p":0.1},{"s":44,"m":36,"p":0.075},{"s":44,"m":40,"p":0.055},{"s":44,"m":45,"p":0.04},{"s":44,"m":50,"p":0.035},{"s":44,"m":55,"p":0.03},{"s":44,"m":60,"p":0.028},
{"s":45,"m":0,"p":0.5},{"s":45,"m":1,"p":0.47},{"s":45,"m":2,"p":0.51},{"s":45,"m":3,"p":0.46},{"s":45,"m":4,"p":0.49},{"s":45,"m":5,"p":0.45},{"s":45,"m":6,"p":0.44},{"s":45,"m":7,"p":0.39},{"s":45,"m":8,"p":0.33},{"s":45,"m":9,"p":0.27},{"s":45,"m":10,"p":0.22},{"s":45,"m":11,"p":0.18},{"s":45,"m":12,"p":0.14},{"s":45,"m":13,"p":0.115},{"s":45,"m":14,"p":0.095},{"s":45,"m":15,"p":0.08},{"s":45,"m":16,"p":0.07},{"s":45,"m":18,"p":0.055},{"s":45,"m":20,"p":0.045},{"s":45,"m":23,"p":0.035},{"s":45,"m":27,"p":0.028},{"s":45,"m":35,"p":0.02},{"s":45,"m":45,"p":0.016},{"s":45,"m":60,"p":0.013},
{"s":46,"m":0,"p":0.5},{"s":46,"m":1,"p":0.53},{"s":46,"m":2,"p":0.48},{"s":46,"m":3,"p":0.51},{"s":46,"m":4,"p":0.47},{"s":46,"m":5,"p":0.5},{"s":46,"m":6,"p":0.46},{"s":46,"m":7,"p":0.42},{"s":46,"m":8,"p":0.36},{"s":46,"m":9,"p":0.3},{"s":46,"m":10,"p":0.25},{"s":46,"m":11,"p":0.2},{"s":46,"m":12,"p":0.16},{"s":46,"m":13,"p":0.13},{"s":46,"m":14,"p":0.11},{"s":46,"m":15,"p":0.09},{"s":46,"m":16,"p":0.08},{"s":46,"m":18,"p":0.062},{"s":46,"m":20,"p":0.05},{"s":46,"m":23,"p":0.04},{"s":46,"m":27,"p":0.03},{"s":46,"m":35,"p":0.022},{"s":46,"m":45,"p":0.018},{"s":46,"m":60,"p":0.015},
{"s":47,"m":0,"p":0.5},{"s":47,"m":1,"p":0.46},{"s":47,"m":2,"p":0.43},{"s":47,"m":3,"p":0.47},{"s":47,"m":4,"p":0.44},{"s":47,"m":5,"p":0.41},{"s":47,"m":6,"p":0.43},{"s":47,"m":7,"p":0.37},{"s":47,"m":8,"p":0.31},{"s":47,"m":9,"p":0.25},{"s":47,"m":10,"p":0.2},{"s":47,"m":11,"p":0.16},{"s":47,"m":12,"p":0.13},{"s":47,"m":13,"p":0.1},{"s":47,"m":14,"p":0.085},{"s":47,"m":15,"p":0.07},{"s":47,"m":17,"p":0.055},{"s":47,"m":19,"p":0.045},{"s":47,"m":22,"p":0.035},{"s":47,"m":26,"p":0.027},{"s":47,"m":32,"p":0.02},{"s":47,"m":45,"p":0.015},{"s":47,"m":60,"p":0.012},
{"s":48,"m":0,"p":0.5},{"s":48,"m":1,"p":0.51},{"s":48,"m":2,"p":0.54},{"s":48,"m":3,"p":0.49},{"s":48,"m":4,"p":0.52},{"s":48,"m":5,"p":0.48},{"s":48,"m":6,"p":0.5},{"s":48,"m":7,"p":0.45},{"s":48,"m":8,"p":0.4},{"s":48,"m":9,"p":0.34},{"s":48,"m":10,"p":0.28},{"s":48,"m":11,"p":0.23},{"s":48,"m":12,"p":0.19},{"s":48,"m":13,"p":0.16},{"s":48,"m":14,"p":0.13},{"s":48,"m":15,"p":0.11},{"s":48,"m":16,"p":0.095},{"s":48,"m":17,"p":0.08},{"s":48,"m":18,"p":0.07},{"s":48,"m":20,"p":0.055},{"s":48,"m":22,"p":0.045},{"s":48,"m":25,"p":0.036},{"s":48,"m":29,"p":0.029},{"s":48,"m":36,"p":0.022},{"s":48,"m":45,"p":0.018},{"s":48,"m":60,"p":0.014},
{"s":49,"m":0,"p":0.5},{"s":49,"m":1,"p":0.44},{"s":49,"m":2,"p":0.47},{"s":49,"m":3,"p":0.43},{"s":49,"m":4,"p":0.46},{"s":49,"m":5,"p":0.42},{"s":49,"m":6,"p":0.4},{"s":49,"m":7,"p":0.35},{"s":49,"m":8,"p":0.29},{"s":49,"m":9,"p":0.24},{"s":49,"m":10,"p":0.19},{"s":49,"m":11,"p":0.15},{"s":49,"m":12,"p":0.12},{"s":49,"m":13,"p":0.095},{"s":49,"m":14,"p":0.08},{"s":49,"m":16,"p":0.06},{"s":49,"m":18,"p":0.048},{"s":49,"m":21,"p":0.038},{"s":49,"m":25,"p":0.03},{"s":49,"m":30,"p":0.024},{"s":49,"m":40,"p":0.018},{"s":49,"m":60,"p":0.013},
{"s":50,"m":0,"p":0.5},{"s":50,"m":1,"p":0.52},{"s":50,"m":2,"p":0.47},{"s":50,"m":3,"p":0.5},{"s":50,"m":4,"p":0.53},{"s":50,"m":5,"p":0.48},{"s":50,"m":6,"p":0.47},{"s":50,"m":7,"p":0.43},{"s":50,"m":8,"p":0.39},{"s":50,"m":9,"p":0.35},{"s":50,"m":10,"p":0.3},{"s":50,"m":11,"p":0.26},{"s":50,"m":12,"p":0.22},{"s":50,"m":13,"p":0.18},{"s":50,"m":14,"p":0.15},{"s":50,"m":15,"p":0.13},{"s":50,"m":16,"p":0.11},{"s":50,"m":17,"p":0.095},{"s":50,"m":18,"p":0.08},{"s":50,"m":20,"p":0.062},{"s":50,"m":22,"p":0.05},{"s":50,"m":24,"p":0.042},{"s":50,"m":27,"p":0.034},{"s":50,"m":31,"p":0.027},{"s":50,"m":38,"p":0.021},{"s":50,"m":48,"p":0.017},{"s":50,"m":60,"p":0.014},
{"s":51,"m":0,"p":0.5},{"s":51,"m":1,"p":0.48},{"s":51,"m":2,"p":0.45},{"s":51,"m":3,"p":0.49},{"s":51,"m":4,"p":0.45},{"s":51,"m":5,"p":0.47},{"s":51,"m":6,"p":0.42},{"s":51,"m":7,"p":0.38},{"s":51,"m":8,"p":0.32},{"s":51,"m":9,"p":0.27},{"s":51,"m":10,"p":0.23},{"s":51,"m":11,"p":0.19},{"s":51,"m":12,"p":0.16},{"s":51,"m":13,"p":0.13},{"s":51,"m":14,"p":0.11},{"s":51,"m":15,"p":0.095},{"s":51,"m":16,"p":0.085},{"s":51,"m":18,"p":0.068},{"s":51,"m":20,"p":0.056},{"s":51,"m":22,"p":0.047},{"s":51,"m":25,"p":0.038},{"s":51,"m":29,"p":0.03},{"s":51,"m":35,"p":0.024},{"s":51,"m":45,"p":0.018},{"s":51,"m":60,"p":0.015},
{"s":52,"m":0,"p":0.5},{"s":52,"m":1,"p":0.55},{"s":52,"m":2,"p":0.51},{"s":52,"m":3,"p":0.47},{"s":52,"m":4,"p":0.5},{"s":52,"m":5,"p":0.46},{"s":52,"m":6,"p":0.45},{"s":52,"m":7,"p":0.41},{"s":52,"m":8,"p":0.37},{"s":52,"m":9,"p":0.32},{"s":52,"m":10,"p":0.27},{"s":52,"m":11,"p":0.22},{"s":52,"m":12,"p":0.18},{"s":52,"m":13,"p":0.15},{"s":52,"m":14,"p":0.12},{"s":52,"m":15,"p":0.1},{"s":52,"m":16,"p":0.085},{"s":52,"m":18,"p":0.065},{"s":52,"m":20,"p":0.052},{"s":52,"m":23,"p":0.04},{"s":52,"m":27,"p":0.031},{"s":52,"m":33,"p":0.024},{"s":52,"m":42,"p":0.019},{"s":52,"m":60,"p":0.015},
{"s":53,"m":0,"p":0.5},{"s":53,"m":1,"p":0.47},{"s":53,"m":2,"p":0.44},{"s":53,"m":3,"p":0.4},{"s":53,"m":4,"p":0.43},{"s":53,"m":5,"p":0.39},{"s":53,"m":6,"p":0.36},{"s":53,"m":7,"p":0.31},{"s":53,"m":8,"p":0.26},{"s":53,"m":9,"p":0.21},{"s":53,"m":10,"p":0.17},{"s":53,"m":11,"p":0.13},{"s":53,"m":12,"p":0.1},{"s":53,"m":13,"p":0.08},{"s":53,"m":14,"p":0.065},{"s":53,"m":16,"p":0.05},{"s":53,"m":18,"p":0.04},{"s":53,"m":21,"p":0.032},{"s":53,"m":25,"p":0.025},{"s":53,"m":32,"p":0.019},{"s":53,"m":45,"p":0.015},{"s":53,"m":60,"p":0.012},
{"s":54,"m":0,"p":0.5},{"s":54,"m":1,"p":0.5},{"s":54,"m":2,"p":0.46},{"s":54,"m":3,"p":0.5},{"s":54,"m":4,"p":0.47},{"s":54,"m":5,"p":0.51},{"s":54,"m":6,"p":0.48},{"s":54,"m":7,"p":0.46},{"s":54,"m":8,"p":0.42},{"s":54,"m":9,"p":0.38},{"s":54,"m":10,"p":0.33},{"s":54,"m":11,"p":0.28},{"s":54,"m":12,"p":0.24},{"s":54,"m":13,"p":0.2},{"s":54,"m":14,"p":0.17},{"s":54,"m":15,"p":0.14},{"s":54,"m":16,"p":0.12},{"s":54,"m":17,"p":0.1},{"s":54,"m":18,"p":0.088},{"s":54,"m":19,"p":0.077},{"s":54,"m":20,"p":0.068},{"s":54,"m":22,"p":0.055},{"s":54,"m":24,"p":0.046},{"s":54,"m":27,"p":0.037},{"s":54,"m":30,"p":0.031},{"s":54,"m":35,"p":0.025},{"s":54,"m":42,"p":0.02},{"s":54,"m":50,"p":0.017},{"s":54,"m":60,"p":0.015},
{"s":55,"m":0,"p":0.5},{"s":55,"m":1,"p":0.45},{"s":55,"m":2,"p":0.49},{"s":55,"m":3,"p":0.45},{"s":55,"m":4,"p":0.42},{"s":55,"m":5,"p":0.45},{"s":55,"m":6,"p":0.41},{"s":55,"m":7,"p":0.36},{"s":55,"m":8,"p":0.3},{"s":55,"m":9,"p":0.25},{"s":55,"m":10,"p":0.21},{"s":55,"m":11,"p":0.17},{"s":55,"m":12,"p":0.14},{"s":55,"m":13,"p":0.12},{"s":55,"m":14,"p":0.1},{"s":55,"m":15,"p":0.085},{"s":55,"m":16,"p":0.074},{"s":55,"m":18,"p":0.058},{"s":55,"m":20,"p":0.047},{"s":55,"m":23,"p":0.037},{"s":55,"m":27,"p":0.029},{"s":55,"m":34,"p":0.022},{"s":55,"m":45,"p":0.017},{"s":55,"m":60,"p":0.013},
{"s":56,"m":0,"p":0.5},{"s":56,"m":1,"p":0.53},{"s":56,"m":2,"p":0.5},{"s":56,"m":3,"p":0.54},{"s":56,"m":4,"p":0.5},{"s":56,"m":5,"p":0.47},{"s":56,"m":6,"p":0.44},{"s":56,"m":7,"p":0.4},{"s":56,"m":8,"p":0.35},{"s":56,"m":9,"p":0.29},{"s":56,"m":10,"p":0.24},{"s":56,"m":11,"p":0.19},{"s":56,"m":12,"p":0.15},{"s":56,"m":13,"p":0.12},{"s":56,"m":14,"p":0.1},{"s":56,"m":15,"p":0.083},{"s":56,"m":17,"p":0.062},{"s":56,"m":19,"p":0.05},{"s":56,"m":22,"p":0.039},{"s":56,"m":26,"p":0.03},{"s":56,"m":32,"p":0.023},{"s":56,"m":45,"p":0.017},{"s":56,"m":60,"p":0.013},
{"s":57,"m":0,"p":0.5},{"s":57,"m":1,"p":0.53},{"s":57,"m":2,"p":0.49},{"s":57,"m":3,"p":0.54},{"s":57,"m":4,"p":0.51},{"s":57,"m":5,"p":0.55},{"s":57,"m":6,"p":0.56},{"s":57,"m":7,"p":0.62},{"s":57,"m":8,"p":0.69},{"s":57,"m":9,"p":0.76},{"s":57,"m":10,"p":0.81},{"s":57,"m":11,"p":0.85},{"s":57,"m":12,"p":0.88},{"s":57,"m":13,"p":0.91},{"s":57,"m":14,"p":0.93},{"s":57,"m":16,"p":0.95},{"s":57,"m":18,"p":0.965},{"s":57,"m":20,"p":0.975},{"s":57,"m":25,"p":0.985},{"s":57,"m":35,"p":0.99},{"s":57,"m":50,"p":0.993},{"s":57,"m":60,"p":0.992},
{"s":58,"m":0,"p":0.5},{"s":58,"m":1,"p":0.47},{"s":58,"m":2,"p":0.52},{"s":58,"m":3,"p":0.48},{"s":58,"m":4,"p":0.53},{"s":58,"m":5,"p":0.5},{"s":58,"m":6,"p":0.54},{"s":58,"m":7,"p":0.59},{"s":58,"m":8,"p":0.66},{"s":58,"m":9,"p":0.73},{"s":58,"m":10,"p":0.79},{"s":58,"m":11,"p":0.84},{"s":58,"m":12,"p":0.87},{"s":58,"m":13,"p":0.9},{"s":58,"m":14,"p":0.92},{"s":58,"m":15,"p":0.935},{"s":58,"m":16,"p":0.945},{"s":58,"m":18,"p":0.96},{"s":58,"m":20,"p":0.97},{"s":58,"m":24,"p":0.98},{"s":58,"m":30,"p":0.986},{"s":58,"m":45,"p":0.99},{"s":58,"m":60,"p":0.992},
{"s":59,"m":0,"p":0.5},{"s":59,"m":1,"p":0.55},{"s":59,"m":2,"p":0.51},{"s":59,"m":3,"p":0.56},{"s":59,"m":4,"p":0.53},{"s":59,"m":5,"p":0.58},{"s":59,"m":6,"p":0.6},{"s":59,"m":7,"p":0.66},{"s":59,"m":8,"p":0.73},{"s":59,"m":9,"p":0.79},{"s":59,"m":10,"p":0.84},{"s":59,"m":11,"p":0.88},{"s":59,"m":12,"p":0.91},{"s":59,"m":13,"p":0.93},{"s":59,"m":14,"p":0.945},{"s":59,"m":16,"p":0.96},{"s":59,"m":18,"p":0.97},{"s":59,"m":21,"p":0.98},{"s":59,"m":26,"p":0.986},{"s":59,"m":35,"p":0.99},{"s":59,"m":60,"p":0.993},
{"s":60,"m":0,"p":0.5},{"s":60,"m":1,"p":0.49},{"s":60,"m":2,"p":0.54},{"s":60,"m":3,"p":0.5},{"s":60,"m":4,"p":0.55},{"s":60,"m":5,"p":0.52},{"s":60,"m":6,"p":0.55},{"s":60,"m":7,"p":0.58},{"s":60,"m":8,"p":0.63},{"s":60,"m":9,"p":0.69},{"s":60,"m":10,"p":0.75},{"s":60,"m":11,"p":0.8},{"s":60,"m":12,"p":0.84},{"s":60,"m":13,"p":0.87},{"s":60,"m":14,"p":0.9},{"s":60,"m":15,"p":0.92},{"s":60,"m":16,"p":0.935},{"s":60,"m":18,"p":0.955},{"s":60,"m":20,"p":0.965},{"s":60,"m":23,"p":0.975},{"s":60,"m":28,"p":0.983},{"s":60,"m":35,"p":0.988},{"s":60,"m":50,"p":0.99},{"s":60,"m":60,"p":0.991},
{"s":61,"m":0,"p":0.5},{"s":61,"m":1,"p":0.52},{"s":61,"m":2,"p":0.56},{"s":61,"m":3,"p":0.52},{"s":61,"m":4,"p":0.56},{"s":61,"m":5,"p":0.6},{"s":61,"m":6,"p":0.59},{"s":61,"m":7,"p":0.64},{"s":61,"m":8,"p":0.71},{"s":61,"m":9,"p":0.78},{"s":61,"m":10,"p":0.83},{"s":61,"m":11,"p":0.87},{"s":61,"m":12,"p":0.9},{"s":61,"m":13,"p":0.92},{"s":61,"m":14,"p":0.94},{"s":61,"m":16,"p":0.957},{"s":61,"m":18,"p":0.968},{"s":61,"m":20,"p":0.976},{"s":61,"m":25,"p":0.985},{"s":61,"m":35,"p":0.99},{"s":61,"m":60,"p":0.992},
{"s":62,"m":0,"p":0.5},{"s":62,"m":1,"p":0.46},{"s":62,"m":2,"p":0.5},{"s":62,"m":3,"p":0.53},{"s":62,"m":4,"p":0.49},{"s":62,"m":5,"p":0.53},{"s":62,"m":6,"p":0.52},{"s":62,"m":7,"p":0.57},{"s":62,"m":8,"p":0.62},{"s":62,"m":9,"p":0.67},{"s":62,"m":10,"p":0.72},{"s":62,"m":11,"p":0.77},{"s":62,"m":12,"p":0.81},{"s":62,"m":13,"p":0.85},{"s":62,"m":14,"p":0.88},{"s":62,"m":15,"p":0.9},{"s":62,"m":16,"p":0.92},{"s":62,"m":17,"p":0.935},{"s":62,"m":18,"p":0.945},{"s":62,"m":20,"p":0.96},{"s":62,"m":22,"p":0.97},{"s":62,"m":26,"p":0.98},{"s":62,"m":32,"p":0.986},{"s":62,"m":45,"p":0.99},{"s":62,"m":60,"p":0.991},
{"s":63,"m":0,"p":0.5},{"s":63,"m":1,"p":0.54},{"s":63,"m":2,"p":0.58},{"s":63,"m":3,"p":0.54},{"s":63,"m":4,"p":0.58},{"s":63,"m":5,"p":0.55},{"s":63,"m":6,"p":0.6},{"s":63,"m":7,"p":0.65},{"s":63,"m":8,"p":0.72},{"s":63,"m":9,"p":0.8},{"s":63,"m":10,"p":0.85},{"s":63,"m":11,"p":0.89},{"s":63,"m":12,"p":0.92},{"s":63,"m":13,"p":0.94},{"s":63,"m":14,"p":0.955},{"s":63,"m":16,"p":0.97},{"s":63,"m":19,"p":0.98},{"s":63,"m":24,"p":0.987},{"s":63,"m":35,"p":0.99},{"s":63,"m":60,"p":0.993},
{"s":64,"m":0,"p":0.5},{"s":64,"m":1,"p":0.48},{"s":64,"m":2,"p":0.52},{"s":64,"m":3,"p":0.56},{"s":64,"m":4,"p":0.52},{"s":64,"m":5,"p":0.57},{"s":64,"m":6,"p":0.58},{"s":64,"m":7,"p":0.61},{"s":64,"m":8,"p":0.67},{"s":64,"m":9,"p":0.72},{"s":64,"m":10,"p":0.77},{"s":64,"m":11,"p":0.81},{"s":64,"m":12,"p":0.85},{"s":64,"m":13,"p":0.88},{"s":64,"m":14,"p":0.9},{"s":64,"m":15,"p":0.92},{"s":64,"m":16,"p":0.935},{"s":64,"m":18,"p":0.953},{"s":64,"m":20,"p":0.964},{"s":64,"m":23,"p":0.974},{"s":64,"m":27,"p":0.982},{"s":64,"m":33,"p":0.987},{"s":64,"m":45,"p":0.99},{"s":64,"m":60,"p":0.991},
{"s":65,"m":0,"p":0.5},{"s":65,"m":1,"p":0.51},{"s":65,"m":2,"p":0.47},{"s":65,"m":3,"p":0.51},{"s":65,"m":4,"p":0.55},{"s":65,"m":5,"p":0.51},{"s":65,"m":6,"p":0.53},{"s":65,"m":7,"p":0.56},{"s":65,"m":8,"p":0.6},{"s":65,"m":9,"p":0.65},{"s":65,"m":10,"p":0.7},{"s":65,"m":11,"p":0.75},{"s":65,"m":12,"p":0.79},{"s":65,"m":13,"p":0.83},{"s":65,"m":14,"p":0.86},{"s":65,"m":15,"p":0.89},{"s":65,"m":16,"p":0.91},{"s":65,"m":17,"p":0.925},{"s":65,"m":18,"p":0.94},{"s":65,"m":20,"p":0.955},{"s":65,"m":22,"p":0.966},{"s":65,"m":25,"p":0.976},{"s":65,"m":30,"p":0.984},{"s":65,"m":40,"p":0.989},{"s":65,"m":60,"p":0.991},
{"s":66,"m":0,"p":0.5},{"s":66,"m":1,"p":0.56},{"s":66,"m":2,"p":0.53},{"s":66,"m":3,"p":0.57},{"s":66,"m":4,"p":0.61},{"s":66,"m":5,"p":0.58},{"s":66,"m":6,"p":0.63},{"s":66,"m":7,"p":0.7},{"s":66,"m":8,"p":0.77},{"s":66,"m":9,"p":0.83},{"s":66,"m":10,"p":0.87},{"s":66,"m":11,"p":0.9},{"s":66,"m":12,"p":0.93},{"s":66,"m":13,"p":0.95},{"s":66,"m":14,"p":0.96},{"s":66,"m":16,"p":0.972},{"s":66,"m":19,"p":0.982},{"s":66,"m":25,"p":0.988},{"s":66,"m":40,"p":0.992},{"s":66,"m":60,"p":0.994},
{"s":67,"m":0,"p":0.5},{"s":67,"m":1,"p":0.5},{"s":67,"m":2,"p":0.55},{"s":67,"m":3,"p":0.51},{"s":67,"m":4,"p":0.54},{"s":67,"m":5,"p":0.57},{"s":67,"m":6,"p":0.57},{"s":67,"m":7,"p":0.6},{"s":67,"m":8,"p":0.65},{"s":67,"m":9,"p":0.71},{"s":67,"m":10,"p":0.76},{"s":67,"m":11,"p":0.82},{"s":67,"m":12,"p":0.86},{"s":67,"m":13,"p":0.89},{"s":67,"m":14,"p":0.91},{"s":67,"m":15,"p":0.93},{"s":67,"m":16,"p":0.945},{"s":67,"m":18,"p":0.96},{"s":67,"m":20,"p":0.97},{"s":67,"m":24,"p":0.98},{"s":67,"m":30,"p":0.986},{"s":67,"m":45,"p":0.99},{"s":67,"m":60,"p":0.992},
{"s":68,"m":0,"p":0.5},{"s":68,"m":1,"p":0.53},{"s":68,"m":2,"p":0.57},{"s":68,"m":3,"p":0.6},{"s":68,"m":4,"p":0.56},{"s":68,"m":5,"p":0.6},{"s":68,"m":6,"p":0.62},{"s":68,"m":7,"p":0.68},{"s":68,"m":8,"p":0.74},{"s":68,"m":9,"p":0.8},{"s":68,"m":10,"p":0.85},{"s":68,"m":11,"p":0.88},{"s":68,"m":12,"p":0.905},{"s":68,"m":13,"p":0.925},{"s":68,"m":14,"p":0.94},{"s":68,"m":16,"p":0.958},{"s":68,"m":18,"p":0.97},{"s":68,"m":21,"p":0.979},{"s":68,"m":26,"p":0.986},{"s":68,"m":35,"p":0.99},{"s":68,"m":60,"p":0.992}
]},
"mark": {"type": "line", "color": "#2a2a2a", "strokeWidth": 0.9, "opacity": 0.6},
"encoding": {
  "x": {"field": "m", "type": "quantitative", "scale": {"domain": [0, 60], "nice": false},
        "axis": {"values": [0, 15, 30, 45, 60], "title": "Meses", "domain": false, "ticks": false,
                 "grid": true, "gridColor": "#666666", "gridOpacity": 1, "gridWidth": 1,
                 "labelFont": "Liberation Sans", "labelFontSize": 17, "labelColor": "#111111", "labelPadding": 12, "labelOffset": 2,
                 "labelFlush": false,
                 "titleFont": "Liberation Serif", "titleFontSize": 24, "titleFontWeight": "normal", "titleColor": "#111111", "titlePadding": 34}},
  "y": {"field": "p", "type": "quantitative", "scale": {"domain": [0, 1], "nice": false},
        "axis": {"values": [0, 0.25, 0.5, 0.75, 1], "title": null, "domain": false, "ticks": false,
                 "grid": true, "gridColor": "#666666", "gridOpacity": 1, "gridWidth": 1,
                 "labelExpr": "datum.value == 1 ? \"'\" : datum.value == 0.75 ? '.75' : datum.value == 0.5 ? '.5' : datum.value == 0.25 ? '25' : '0'",
                 "labelFont": "Liberation Sans", "labelFontSize": 17, "labelColor": "#111111", "labelPadding": 12, "labelOffset": 5, "labelFlush": false}},
  "detail": {"field": "s", "type": "nominal"}
}
}
